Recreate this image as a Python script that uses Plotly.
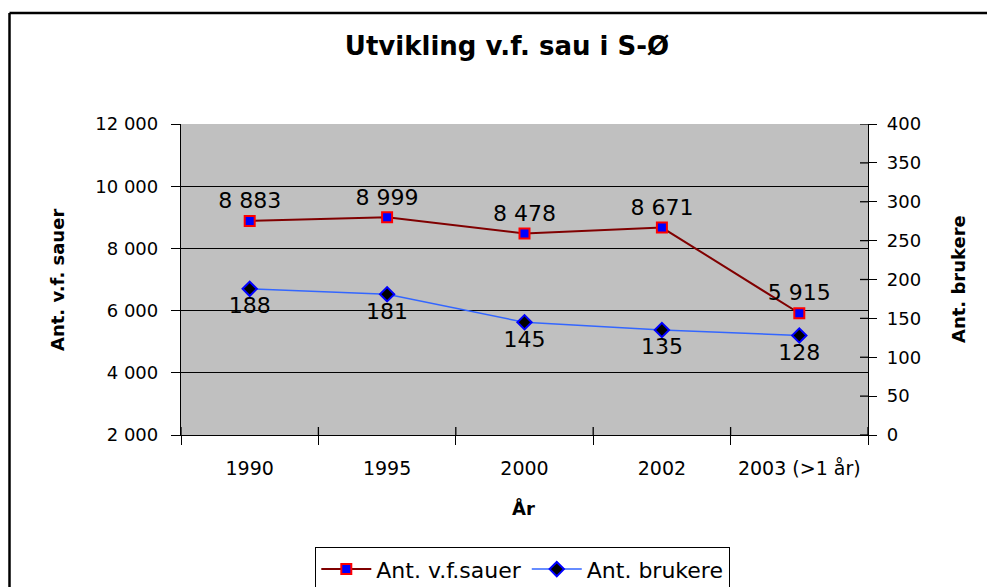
import plotly.graph_objects as go

categories = ["1990", "1995", "2000", "2002", "2003 (>1 år)"]
sauer = [8883, 8999, 8478, 8671, 5915]
brukere = [188, 181, 145, 135, 128]
left_ticks = [2000, 4000, 6000, 8000, 10000, 12000]
right_ticks = [0, 50, 100, 150, 200, 250, 300, 350, 400]

FONT = "DejaVu Sans"

def fmt(v):
    return f"{v:,}".replace(",", " ")

fig = go.Figure()
fig.add_trace(go.Scatter(
    x=categories, y=sauer, name="Ant. v.f.sauer", mode="lines+markers+text",
    line=dict(color="#800000", width=2),
    marker=dict(symbol="square", size=10, color="#0000FF", line=dict(color="#FF0000", width=2)),
    text=[fmt(v) for v in sauer], textposition="top center",
    textfont=dict(family=FONT, size=22, color="black"),
    yaxis="y", cliponaxis=False,
))
fig.add_trace(go.Scatter(
    x=categories, y=brukere, name="Ant. brukere", mode="lines+markers+text",
    line=dict(color="#3366FF", width=1.5),
    marker=dict(symbol="diamond", size=11, color="black", line=dict(color="#0000FF", width=2)),
    text=[fmt(v) for v in brukere], textposition="bottom center",
    textfont=dict(family=FONT, size=22, color="black"),
    yaxis="y2", cliponaxis=False,
))

shapes = []
# inside half of cross ticks on category axis
for i in range(len(categories) + 1):
    shapes.append(dict(type="line", xref="x", yref="paper", x0=i - 0.5, x1=i - 0.5,
                       y0=0, y1=8 / 311, line=dict(color="black", width=1.3)))
# inside half of cross ticks on right axis
for v in right_ticks:
    shapes.append(dict(type="line", xref="paper", yref="y2", x0=1 - 8 / 687, x1=1,
                       y0=v, y1=v, line=dict(color="black", width=1.3)))
# outer chart frame (only left and top edges visible, rest cropped)
fx0 = (9.5 - 181) / 687
fy1 = (435 - 13) / 311
shapes.append(dict(type="line", xref="paper", yref="paper", x0=fx0, x1=fx0,
                   y0=(435 - 620) / 311, y1=fy1, line=dict(color="black", width=2.5)))
shapes.append(dict(type="line", xref="paper", yref="paper", x0=fx0, x1=(1010 - 181) / 687,
                   y0=fy1, y1=fy1, line=dict(color="black", width=2.5)))

fig.update_layout(
    width=987, height=587, autosize=False,
    margin=dict(l=181, r=119, t=124, b=152, autoexpand=False),
    paper_bgcolor="white", plot_bgcolor="#C0C0C0",
    font=dict(family=FONT, size=18, color="black"),
    showlegend=True,
    title=dict(text="<b>Utvikling v.f. sau i S-Ø</b>", font=dict(family=FONT, size=26, color="black"),
               x=(507 - 181) / 687, xref="paper", xanchor="center",
               y=1 - 46 / 587, yref="container", yanchor="middle"),
    xaxis=dict(type="category", categoryorder="array", categoryarray=categories,
               showgrid=False, showline=True, linecolor="black", linewidth=1.3, mirror=False,
               ticks="outside", ticklen=9, tickcolor="black", tickwidth=1.3, tickson="boundaries",
               tickfont=dict(family=FONT, size=19), ticklabelstandoff=16,
               range=[-0.5, len(categories) - 0.5], fixedrange=True),
    yaxis=dict(range=[2000, 12000], tickvals=left_ticks, ticktext=[fmt(v) for v in left_ticks],
               showgrid=True, gridcolor="black", gridwidth=1.3,
               showline=True, linecolor="black", linewidth=1.3,
               ticks="outside", ticklen=9, tickcolor="black", tickwidth=1.3,
               tickfont=dict(family=FONT, size=18), ticklabelstandoff=9, zeroline=False),
    yaxis2=dict(range=[0, 400], tickvals=right_ticks, overlaying="y", side="right",
                showgrid=False, showline=True, linecolor="black", linewidth=1.3,
                ticks="outside", ticklen=8, tickcolor="black", tickwidth=1.3,
                tickfont=dict(family=FONT, size=18), ticklabelstandoff=6, zeroline=False),
    legend=dict(orientation="h", x=(522.5 - 181) / 687, xanchor="center",
                y=(435 - 547) / 311, yanchor="top",
                bordercolor="black", borderwidth=1.3, bgcolor="white",
                font=dict(family=FONT, size=22), itemwidth=50),
    shapes=shapes,
    annotations=[
        dict(text="<b>Ant. v.f. sauer</b>", xref="paper", yref="paper",
             x=(57 - 181) / 687, y=(435 - 280) / 311, xanchor="center", yanchor="middle",
             textangle=-90, showarrow=False, font=dict(family=FONT, size=18)),
        dict(text="<b>Ant. brukere</b>", xref="paper", yref="paper",
             x=(958 - 181) / 687, y=(435 - 279) / 311, xanchor="center", yanchor="middle",
             textangle=-90, showarrow=False, font=dict(family=FONT, size=18)),
        dict(text="<b>År</b>", xref="paper", yref="paper",
             x=(523 - 181) / 687, y=(435 - 508) / 311, xanchor="center", yanchor="middle",
             showarrow=False, font=dict(family=FONT, size=18)),
    ],
)

fig.write_html("out.html", config={"displayModeBar": False},
               post_script="document.body.style.margin='0';document.body.style.overflow='hidden';")
